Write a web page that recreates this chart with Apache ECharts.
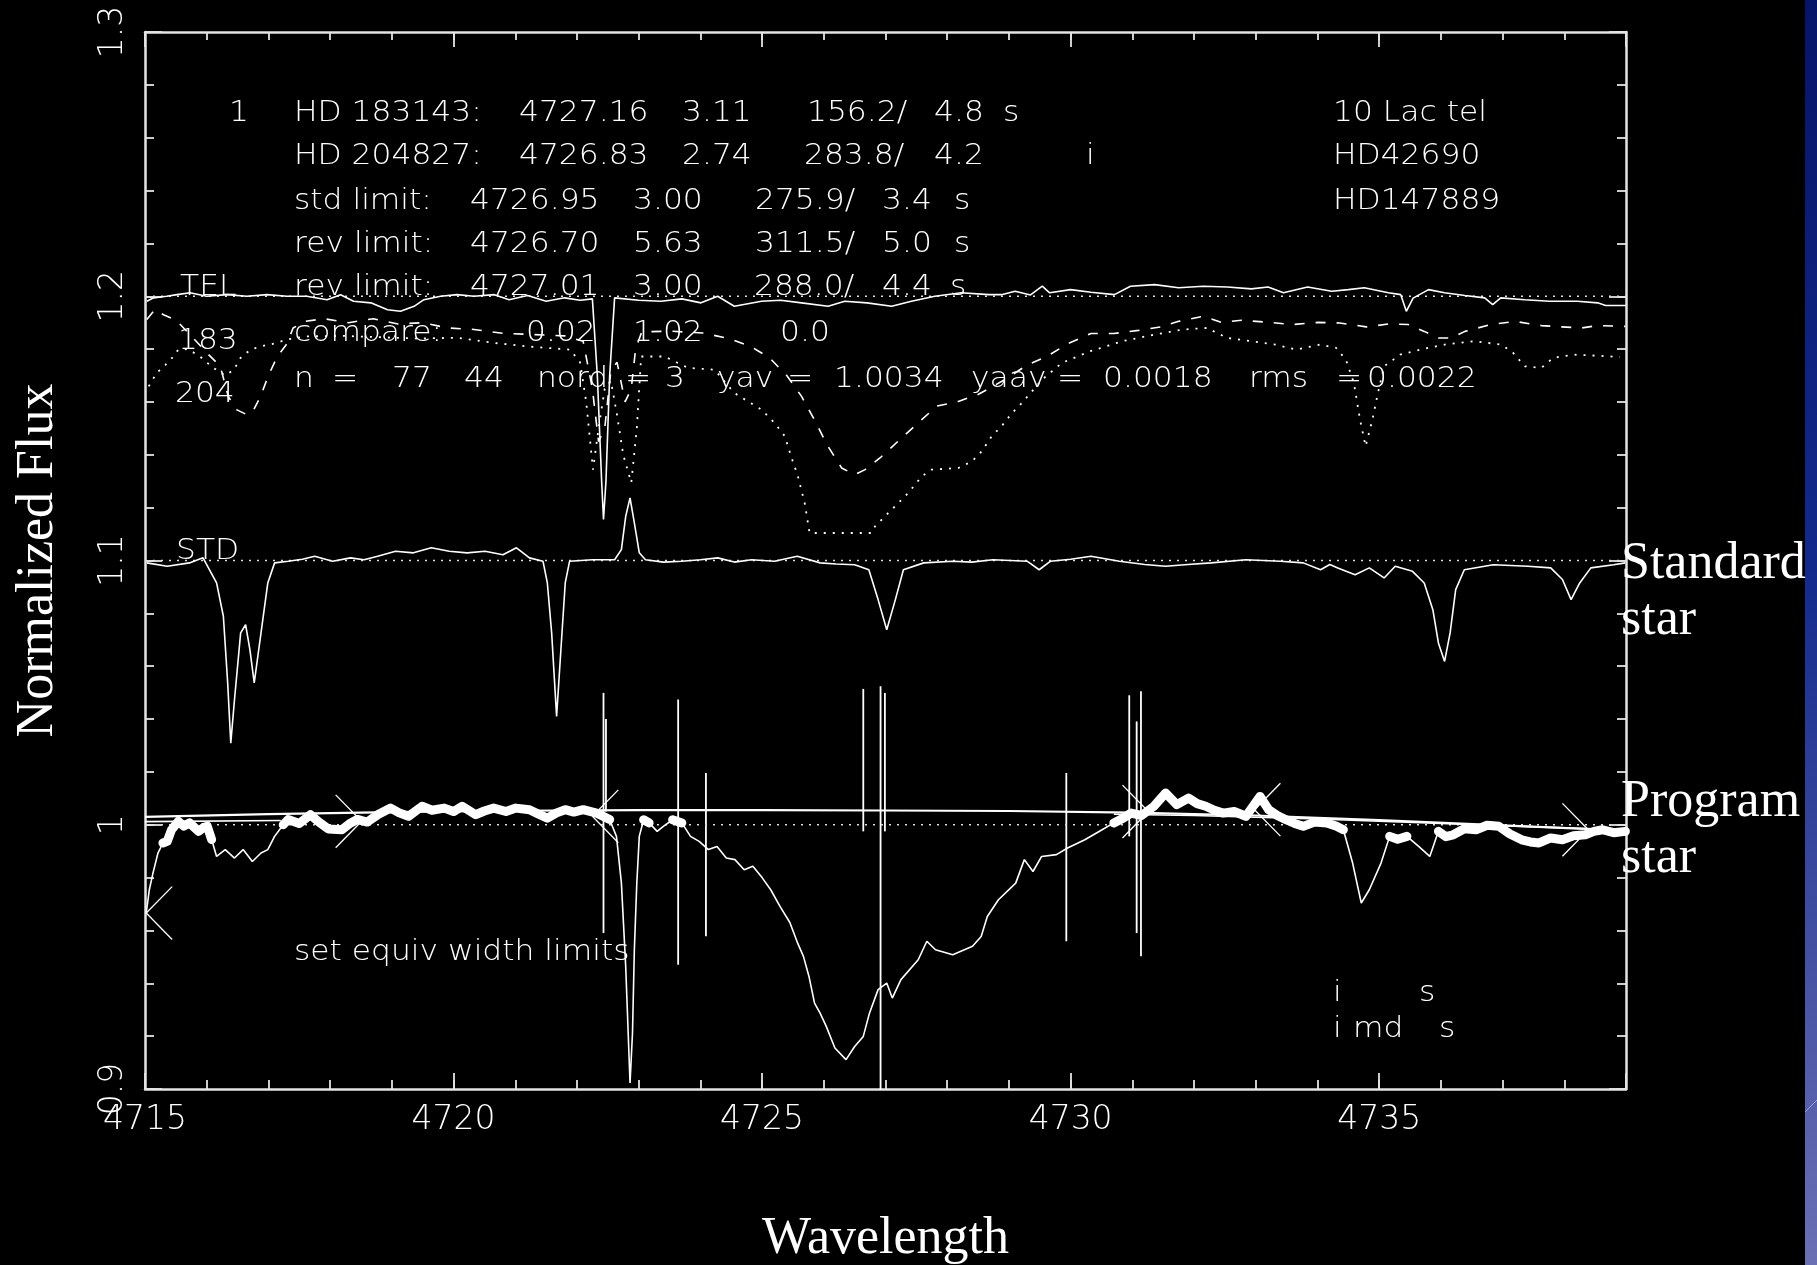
<!DOCTYPE html>
<html><head><meta charset="utf-8">
<script src="https://cdn.jsdelivr.net/npm/echarts@6/dist/echarts.min.js"></script>
<style>html,body{margin:0;padding:0;background:#000;}#c{width:1817px;height:1265px;}</style>
</head><body><div id="c"></div>
<script>
// ---------------- DATA ----------------
const xRange = [4715, 4739];
const yRange = [0.9, 1.3];
const xLabelValues = [4715, 4720, 4725, 4730, 4735];
const refLevels = [1.2, 1.1, 1.0];

const tel = [[4715.03,1.1981],[4715.14,1.1994],[4715.35,1.2],[4715.52,1.2006],[4715.73,1.2013],[4716.0,1.2],[4716.33,1.2006],[4716.65,1.2],[4716.98,1.2006],[4717.3,1.2],[4717.62,1.2],[4717.95,1.1987],[4718.17,1.2006],[4718.38,1.1981],[4718.66,1.1975],[4718.93,1.1949],[4719.14,1.1943],[4719.36,1.1962],[4719.52,1.1987],[4719.79,1.2],[4720.06,1.2006],[4720.33,1.2],[4720.66,1.2006],[4720.9,1.1987],[4721.2,1.2003],[4721.5,1.1981],[4721.8,1.1994],[4722.05,1.1985],[4722.25,1.199],[4722.33,1.17],[4722.4,1.13],[4722.43,1.1155],[4722.47,1.13],[4722.53,1.17],[4722.61,1.1994],[4723.0,1.1985],[4723.36,1.1981],[4723.7,1.199],[4724.01,1.1975],[4724.28,1.2],[4724.55,1.1962],[4724.99,1.1981],[4725.3,1.1985],[4725.64,1.1975],[4726.07,1.1962],[4726.34,1.1981],[4726.7,1.1975],[4727.1,1.1962],[4727.42,1.1981],[4727.8,1.2],[4728.23,1.2013],[4728.67,1.2006],[4728.88,1.2006],[4729.1,1.2019],[4729.35,1.2005],[4729.54,1.2038],[4729.66,1.2013],[4730.0,1.2025],[4730.33,1.2015],[4730.71,1.2006],[4730.97,1.2038],[4731.36,1.2044],[4731.75,1.2032],[4732.15,1.2038],[4732.54,1.2035],[4732.93,1.2028],[4733.2,1.2035],[4733.45,1.2013],[4733.84,1.2035],[4734.23,1.2019],[4734.5,1.2025],[4734.76,1.2032],[4735.15,1.2013],[4735.35,1.2006],[4735.44,1.1943],[4735.55,1.1993],[4735.8,1.2025],[4736.06,1.2013],[4736.39,1.2003],[4736.71,1.1994],[4736.84,1.1968],[4736.97,1.1994],[4737.36,1.1987],[4737.76,1.1981],[4738.21,1.1981],[4738.54,1.1975],[4738.67,1.1965],[4739.0,1.1965]];

const hd183 = [[4715.03,1.1912],[4715.16,1.195],[4715.3,1.193],[4715.5,1.191],[4715.75,1.185],[4716.0,1.1786],[4716.22,1.1735],[4716.35,1.162],[4716.49,1.157],[4716.65,1.1552],[4716.75,1.1565],[4716.87,1.162],[4717.0,1.170],[4717.14,1.177],[4717.3,1.182],[4717.4,1.188],[4717.6,1.1905],[4717.9,1.1915],[4718.3,1.190],[4718.7,1.1915],[4719.1,1.1895],[4719.5,1.190],[4719.9,1.188],[4720.3,1.1875],[4720.8,1.186],[4721.3,1.1855],[4721.8,1.185],[4722.1,1.183],[4722.25,1.165],[4722.35,1.145],[4722.45,1.150],[4722.55,1.172],[4722.65,1.175],[4722.78,1.160],[4722.88,1.165],[4722.95,1.180],[4723.05,1.1865],[4723.5,1.1868],[4724.05,1.1861],[4724.47,1.1839],[4724.81,1.1811],[4725.12,1.1767],[4725.4,1.170],[4725.64,1.1621],[4725.86,1.1527],[4726.05,1.1439],[4726.29,1.135],[4726.5,1.1325],[4726.67,1.1344],[4726.91,1.1388],[4727.23,1.1457],[4727.53,1.1521],[4727.83,1.1584],[4728.18,1.1602],[4728.5,1.1628],[4728.9,1.168],[4729.3,1.174],[4729.62,1.1773],[4729.96,1.1821],[4730.33,1.1859],[4730.7,1.1859],[4731.1,1.1871],[4731.46,1.1884],[4731.75,1.1905],[4732.15,1.1924],[4732.44,1.1901],[4732.77,1.1909],[4733.22,1.1901],[4733.61,1.1893],[4734.01,1.1901],[4734.36,1.1899],[4734.79,1.1884],[4735.15,1.1895],[4735.47,1.1893],[4735.73,1.1867],[4735.96,1.1842],[4736.16,1.1842],[4736.39,1.1867],[4736.81,1.1893],[4737.2,1.1905],[4737.63,1.1889],[4737.95,1.1884],[4738.28,1.188],[4738.54,1.1889],[4738.99,1.1886]];

const hd204 = [[4715.06,1.1659],[4715.19,1.171],[4715.33,1.174],[4715.44,1.1767],[4715.54,1.1798],[4715.7,1.180],[4715.9,1.177],[4716.1,1.173],[4716.3,1.170],[4716.44,1.1722],[4716.55,1.1767],[4716.71,1.1798],[4716.87,1.181],[4717.09,1.1821],[4717.3,1.1836],[4717.6,1.1848],[4718.2,1.185],[4718.8,1.1845],[4719.4,1.184],[4720.06,1.1843],[4720.6,1.1825],[4721.2,1.181],[4721.89,1.1798],[4722.05,1.175],[4722.15,1.16],[4722.26,1.1344],[4722.35,1.15],[4722.45,1.165],[4722.55,1.168],[4722.65,1.155],[4722.75,1.140],[4722.88,1.1294],[4722.97,1.150],[4723.04,1.1772],[4723.42,1.1772],[4723.8,1.1729],[4724.23,1.1722],[4724.55,1.1634],[4724.77,1.1602],[4724.99,1.1571],[4725.2,1.1521],[4725.37,1.147],[4725.47,1.1394],[4725.58,1.1319],[4725.69,1.1218],[4725.77,1.1104],[4726.77,1.1104],[4726.83,1.1129],[4726.99,1.1167],[4727.21,1.1218],[4727.37,1.1256],[4727.59,1.1319],[4727.75,1.1344],[4728.18,1.135],[4728.4,1.1375],[4728.56,1.1413],[4728.72,1.147],[4728.88,1.1508],[4729.05,1.1558],[4729.21,1.1596],[4729.54,1.1685],[4729.86,1.1748],[4730.32,1.1792],[4730.84,1.183],[4731.36,1.1855],[4731.82,1.1874],[4732.21,1.188],[4732.54,1.1842],[4732.93,1.183],[4733.32,1.1817],[4733.65,1.1798],[4734.04,1.1817],[4734.3,1.1805],[4734.46,1.176],[4734.59,1.1672],[4734.69,1.1533],[4734.78,1.1432],[4734.89,1.1533],[4734.98,1.1634],[4735.08,1.1735],[4735.34,1.1779],[4735.7,1.180],[4736.06,1.1817],[4736.53,1.183],[4736.98,1.1817],[4737.17,1.1786],[4737.36,1.1735],[4737.63,1.1729],[4737.82,1.1767],[4738.15,1.1779],[4738.54,1.1775],[4738.9,1.177]];

const standard = [[4715.03,1.0991],[4715.36,1.0978],[4715.72,1.0991],[4715.94,1.101],[4716.16,1.0915],[4716.27,1.0789],[4716.34,1.0536],[4716.39,1.0309],[4716.45,1.0473],[4716.55,1.0726],[4716.63,1.0757],[4716.70,1.0663],[4716.77,1.0537],[4716.88,1.0726],[4716.99,1.0915],[4717.10,1.0991],[4717.32,1.0997],[4717.55,1.1005],[4717.75,1.1016],[4718.04,1.0997],[4718.33,1.101],[4718.55,1.1003],[4718.77,1.1016],[4719.06,1.1035],[4719.35,1.1029],[4719.64,1.1048],[4719.93,1.1035],[4720.22,1.1029],[4720.51,1.1035],[4720.80,1.1022],[4721.02,1.1048],[4721.23,1.101],[4721.45,1.0997],[4721.52,1.0915],[4721.59,1.0726],[4721.67,1.041],[4721.74,1.0663],[4721.81,1.0915],[4721.88,1.0997],[4722.25,1.1003],[4722.61,1.1003],[4722.72,1.1041],[4722.79,1.1167],[4722.86,1.1237],[4722.93,1.1142],[4723.01,1.1029],[4723.11,1.1003],[4723.4,1.0994],[4723.70,1.0997],[4724.0,1.1003],[4724.28,1.101],[4724.55,1.0994],[4724.83,1.1003],[4725.20,1.0997],[4725.57,1.1016],[4725.94,1.0991],[4726.2,1.0987],[4726.50,1.0984],[4726.73,1.0965],[4726.88,1.0852],[4727.02,1.0738],[4727.16,1.0852],[4727.29,1.0965],[4727.62,1.0991],[4728.09,1.0997],[4728.4,1.0994],[4728.74,1.1003],[4729.30,1.0997],[4729.49,1.0965],[4729.67,1.0997],[4730.0,1.1005],[4730.33,1.1016],[4730.79,1.0997],[4731.2,1.0985],[4731.54,1.0978],[4731.9,1.0985],[4732.28,1.0991],[4732.84,1.1003],[4733.40,1.0997],[4733.77,1.0991],[4734.05,1.0965],[4734.2,1.0985],[4734.33,1.0972],[4734.61,1.0946],[4734.84,1.0972],[4735.08,1.0934],[4735.26,1.0978],[4735.54,1.0959],[4735.73,1.0915],[4735.87,1.0814],[4735.96,1.0688],[4736.06,1.0618],[4736.15,1.0726],[4736.24,1.089],[4736.38,1.0965],[4736.85,1.0984],[4737.41,1.0978],[4737.78,1.0972],[4737.97,1.0928],[4738.11,1.0852],[4738.25,1.0915],[4738.43,1.0972],[4738.80,1.0984],[4738.99,1.0991]];

const program = [[4715.02,0.9666],[4715.07,0.9754],[4715.13,0.9818],[4715.21,0.9893],[4715.29,0.9931],[4715.36,0.9937],[4715.43,0.9981],[4715.54,1.0013],[4715.63,0.9995],[4715.72,1.0007],[4715.87,0.9975],[4715.95,0.9990],[4716.01,0.9994],[4716.08,0.9944],[4716.16,0.988],[4716.30,0.9906],[4716.45,0.9874],[4716.59,0.9906],[4716.74,0.9861],[4716.88,0.9893],[4716.99,0.9906],[4717.10,0.9956],[4717.24,1.0],[4717.32,1.0020],[4717.5,1.0005],[4717.68,1.0038],[4717.82,1.0010],[4717.97,0.9984],[4718.19,0.9981],[4718.32,1.0005],[4718.44,1.0020],[4718.6,1.0010],[4718.77,1.0038],[4718.98,1.0063],[4719.12,1.0045],[4719.27,1.0032],[4719.49,1.0070],[4719.65,1.0055],[4719.85,1.0063],[4720.0,1.0050],[4720.14,1.0070],[4720.36,1.0038],[4720.5,1.0052],[4720.65,1.0063],[4720.85,1.0050],[4721.01,1.0063],[4721.23,1.0057],[4721.38,1.0040],[4721.52,1.0025],[4721.67,1.0045],[4721.81,1.0057],[4721.95,1.0048],[4722.10,1.0057],[4722.32,1.0044],[4722.53,1.0020],[4722.64,0.9956],[4722.72,0.978],[4722.79,0.9464],[4722.83,0.9212],[4722.86,0.9023],[4722.90,0.9212],[4722.93,0.9527],[4722.97,0.978],[4723.01,0.9956],[4723.08,1.0019],[4723.17,1.0007],[4723.30,0.9975],[4723.40,0.9994],[4723.55,1.0019],[4723.70,1.0007],[4723.84,0.9956],[4723.98,0.9937],[4724.13,0.9906],[4724.27,0.9918],[4724.42,0.9874],[4724.56,0.9868],[4724.71,0.983],[4724.85,0.9843],[4725.0,0.9800],[4725.14,0.9754],[4725.29,0.9691],[4725.45,0.9630],[4725.58,0.955],[4725.67,0.9502],[4725.76,0.9426],[4725.85,0.9325],[4725.94,0.9287],[4726.04,0.9237],[4726.18,0.9155],[4726.36,0.9111],[4726.50,0.9161],[4726.64,0.9199],[4726.74,0.9287],[4726.88,0.9376],[4727.02,0.9401],[4727.11,0.9344],[4727.25,0.9414],[4727.53,0.9489],[4727.67,0.9559],[4727.81,0.9527],[4728.09,0.9508],[4728.41,0.954],[4728.55,0.9577],[4728.65,0.9653],[4728.83,0.9716],[4729.11,0.9779],[4729.25,0.9868],[4729.39,0.9823],[4729.53,0.988],[4729.77,0.9887],[4729.95,0.9912],[4730.23,0.9943],[4730.51,0.9981],[4730.70,1.0007],[4730.85,1.0025],[4730.98,1.0044],[4731.15,1.0035],[4731.35,1.007],[4731.54,1.012],[4731.72,1.0076],[4731.91,1.0101],[4732.05,1.0080],[4732.19,1.007],[4732.33,1.0055],[4732.47,1.0044],[4732.65,1.0050],[4732.84,1.0032],[4733.07,1.0107],[4733.21,1.0057],[4733.35,1.0035],[4733.49,1.0019],[4733.63,1.0005],[4733.77,0.9994],[4733.95,1.0010],[4734.15,1.0007],[4734.3,0.9995],[4734.42,0.9981],[4734.57,0.9855],[4734.71,0.9704],[4734.84,0.9754],[4735.03,0.9855],[4735.17,0.9956],[4735.3,0.9945],[4735.45,0.9956],[4735.64,0.9918],[4735.82,0.988],[4735.96,0.9975],[4736.08,0.9955],[4736.20,0.9962],[4736.38,0.9985],[4736.57,0.9981],[4736.75,0.9998],[4736.94,0.9994],[4737.12,0.9965],[4737.31,0.9943],[4737.45,0.9935],[4737.59,0.9931],[4737.78,0.9950],[4737.97,0.9943],[4738.15,0.9958],[4738.34,0.9962],[4738.48,0.9975],[4738.62,0.9981],[4738.8,0.9970],[4738.99,0.9975]];

// wavelength windows used as continuum points (heavy trace)
const continuumWindows = [[4715.25,4716.1],[4717.2,4722.55],[4723.05,4723.2],[4723.5,4723.75],[4730.55,4734.45],[4735.1,4735.5],[4735.9,4739.0]];

// continuum fits
const fitMain = [[4715.0,1.0030],[4717,1.0040],[4719,1.0048],[4721,1.0053],[4723,1.0055],[4725,1.0055],[4727,1.0054],[4729,1.0052],[4731,1.0046],[4733,1.0035],[4735,1.0018],[4737,0.9998],[4739,0.9978]];
const fitLeft = [[4715.0,1.0012],[4717.2,1.0016]];
const fitRight = [[4730.7,1.0040],[4732,1.0035],[4734,1.0022],[4736,1.0005],[4738,0.9988],[4739,0.9980]];

// equivalent-width limit bars: [wavelength, top, bottom]
const limitBars = [[4722.43,1.0499,0.959],[4722.47,1.040,1.005],[4723.64,1.0474,0.947],[4724.09,1.0196,0.9578],[4726.64,1.0514,0.9975],[4726.92,1.0524,0.8997],[4726.99,1.0499,0.9975],[4729.93,1.0196,0.9559],[4730.95,1.049,0.9956],[4731.07,1.0391,0.959],[4731.14,1.0505,0.9502]];

// cursor marks: [wavelength, flux, direction (+1 opens right, -1 opens left)]
const cursorMarks = [[4715.02,0.9666,1],[4718.51,1.0013,-1],[4722.25,1.0032,1],[4731.26,1.005,-1],[4732.98,1.0057,1],[4738.39,0.9981,-1]];

// annotation text
const annotRows = [
  ['1','HD 183143:','4727.16','3.11','156.2/','4.8','s','10 Lac tel'],
  ['HD 204827:','4726.83','2.74','283.8/','4.2','i','HD42690'],
  ['std limit:','4726.95','3.00','275.9/','3.4','s','HD147889'],
  ['rev limit:','4726.70','5.63','311.5/','5.0','s'],
  ['rev limit:','4727.01','3.00','288.0/','4.4','s'],
  ['compare:','0.02','1.02','0.0'],
  ['n','=','77','44','nord','=','3','yav','=','1.0034','yaav','=','0.0018','rms','=','0.0022']
];
const traceLabels = ['TEL','183','204','STD'];
const noteLines = ['set equiv width limits'];
const statusRows = [['i','s'],['i','md','s']];
const sideLabels = [['Standard','star'],['Program','star']];

// ---------------- LAYOUT (pixels) ----------------
const annotX = [
  [229,294,519,682,807,934,1003,1333],
  [294,519,682,804,934,1086,1333],
  [294,470,633,755,882,954,1333],
  [294,470,633,755,882,954],
  [294,470,633,754,882,950],
  [294,526,633,780],
  [294,332,392,464,537,625,665,717,787,834,971,1057,1103,1249,1336,1367]
];
const annotY = [113,156,201,244,287,333,379];
const traceLabelPos = [[180,287],[178,341],[175,394],[176,551]];
const statusX = [[1333,1419],[1333,1353,1439]];
const statusY = [993,1029];
const sideLabelPos = [[1621,564,620],[1621,802,858]];

const WHITE = '#ffffff';
const AX = '#e4e4e4';
const monoFont = '200 29px "DejaVu Sans"';
const tickFont = "'DejaVu Sans'";
const serif = "'Liberation Serif','DejaVu Serif',serif";

function inWindows(x){ return continuumWindows.some(w => x >= w[0] && x <= w[1]); }
const heavy = program.map(p => inWindows(p[0]) ? p : [p[0], '-']);

function txt(x, y, s, font, sx){
  return {type:'text', x:x, y:y, scaleX: sx || 1, z:50, silent:true,
    style:{text:s, fill:WHITE, font:font, align:'left', verticalAlign:'middle', textAlign:'left', textVerticalAlign:'middle'}};
}

const graphics = [];
annotRows.forEach((row, r) => row.forEach((s, i) => graphics.push(txt(annotX[r][i], annotY[r], s, monoFont, 1.08))));
traceLabels.forEach((s, i) => graphics.push(txt(traceLabelPos[i][0], traceLabelPos[i][1], s, monoFont, 1.08)));
graphics.push(txt(294, 952, noteLines[0], monoFont, 1.08));
statusRows.forEach((row, r) => row.forEach((s, i) => graphics.push(txt(statusX[r][i], statusY[r], s, monoFont, 1.08))));
sideLabels.forEach((pair, i) => {
  graphics.push(txt(sideLabelPos[i][0], sideLabelPos[i][1], pair[0], '52px ' + serif, 1));
  graphics.push(txt(sideLabelPos[i][0], sideLabelPos[i][2], pair[1], '52px ' + serif, 1));
});
graphics.push({type:'rect', z:40, silent:true, shape:{x:1805,y:0,width:12,height:1265},
  style:{fill:{type:'linear',x:0,y:0,x2:0,y2:1,colorStops:[{offset:0,color:'#061468'},{offset:0.45,color:'#132a8c'},{offset:1,color:'#6b70b4'}]}}});
graphics.push({type:'line', z:41, silent:true, shape:{x1:1805,y1:1112,x2:1817,y2:1100}, style:{stroke:'#9aa0d8', lineWidth:1}});

function lineSeries(data, style, extra){
  return Object.assign({type:'line', data:data, showSymbol:false, symbol:'none', silent:true, animation:false,
    xAxisIndex:0, yAxisIndex:0, lineStyle:Object.assign({color:WHITE, width:1.6}, style)}, extra||{});
}

const series = [];
refLevels.forEach(l => series.push(lineSeries([[xRange[0],l],[xRange[1],l]], {type:[2,6], width:1.6, color:'#dddddd'})));
series.push(lineSeries(tel, {}));
series.push(lineSeries(hd183, {type:[10,11]}));
series.push(lineSeries(hd204, {type:[2,7], width:1.8}));
series.push(lineSeries(standard, {}));
series.push(lineSeries(fitMain, {width:2.2}));
series.push(lineSeries(fitLeft, {width:1.6}));
series.push(lineSeries(fitRight, {width:1.6}));
series.push(lineSeries(program, {}));
series.push(lineSeries(heavy, {width:9, cap:'round', join:'round'}, {connectNulls:false}));
series.push({type:'custom', silent:true, animation:false, xAxisIndex:0, yAxisIndex:0, data:limitBars,
  encode:{x:0, y:[1,2]},
  renderItem:function(params, api){
    const a = api.coord([api.value(0), api.value(1)]);
    const b = api.coord([api.value(0), api.value(2)]);
    return {type:'line', shape:{x1:a[0],y1:a[1],x2:b[0],y2:b[1]}, style:{stroke:WHITE, lineWidth:1.8}};
  }});
series.push({type:'custom', silent:true, animation:false, xAxisIndex:0, yAxisIndex:0, data:cursorMarks,
  encode:{x:0, y:1},
  renderItem:function(params, api){
    const x = api.value(0), y = api.value(1), d = api.value(2);
    const v = api.coord([x, y]);
    const e1 = api.coord([x + d*0.42, y + 0.01]);
    const e2 = api.coord([x + d*0.42, y - 0.01]);
    const st = {stroke:WHITE, lineWidth:1.3};
    return {type:'group', children:[
      {type:'line', shape:{x1:v[0],y1:v[1],x2:e1[0],y2:e1[1]}, style:st},
      {type:'line', shape:{x1:v[0],y1:v[1],x2:e2[0],y2:e2[1]}, style:st}
    ]};
  }});

function xAx(pos, interval, tickLen, major){
  return {type:'value', position:pos, min:xRange[0], max:xRange[1], interval:interval,
    axisLine:{show:major, onZero:false, lineStyle:{color:AX, width:2.5}},
    axisTick:{show:true, inside:true, length:tickLen, lineStyle:{color:AX, width:1.8}},
    axisLabel:{show:false}, splitLine:{show:false}, minorTick:{show:false}};
}
function yAx(pos, interval, tickLen, major){
  return {type:'value', position:pos, min:yRange[0], max:yRange[1], interval:interval,
    axisLine:{show:major, onZero:false, lineStyle:{color:AX, width:2.5}},
    axisTick:{show:true, inside:true, length:tickLen, lineStyle:{color:AX, width:1.8}},
    axisLabel:{show:false}, splitLine:{show:false}, minorTick:{show:false}};
}
const x0 = xAx('bottom', 5, 16, true);
x0.axisLabel = {show:true, color:WHITE, fontFamily:tickFont, fontSize:33, fontWeight:200, margin:15,
  formatter: v => xLabelValues.indexOf(Math.round(v)) >= 0 && Math.abs(v - Math.round(v)) < 1e-6 ? String(Math.round(v)) : ''};
x0.name = 'Wavelength'; x0.nameLocation = 'middle'; x0.nameGap = 124;
x0.nameTextStyle = {color:WHITE, fontFamily:serif, fontSize:52};
const y0 = yAx('left', 0.1, 17, true);
y0.axisLabel = {show:true, color:WHITE, fontFamily:tickFont, fontSize:33, fontWeight:200, margin:15, rotate:90,
  formatter: v => String(Math.round(v*10)/10)};
y0.name = 'Normalized Flux'; y0.nameLocation = 'middle'; y0.nameGap = 81; y0.nameRotate = 90;
y0.nameTextStyle = {color:WHITE, fontFamily:serif, fontSize:52};

const option = {
  backgroundColor:'#000000',
  animation:false,
  grid:{left:145, right:191, top:32, bottom:176, containLabel:false, outerBoundsMode:'none'},
  xAxis:[x0, xAx('bottom',1,9,false), xAx('top',5,15,true), xAx('top',1,8,false)],
  yAxis:[y0, yAx('left',0.02,9,false), yAx('right',0.1,17,true), yAx('right',0.02,9,false)],
  series:series,
  graphic:graphics
};
const chart = echarts.init(document.getElementById('c'), null, {renderer:'canvas'});
chart.setOption(option);
</script></body></html>
